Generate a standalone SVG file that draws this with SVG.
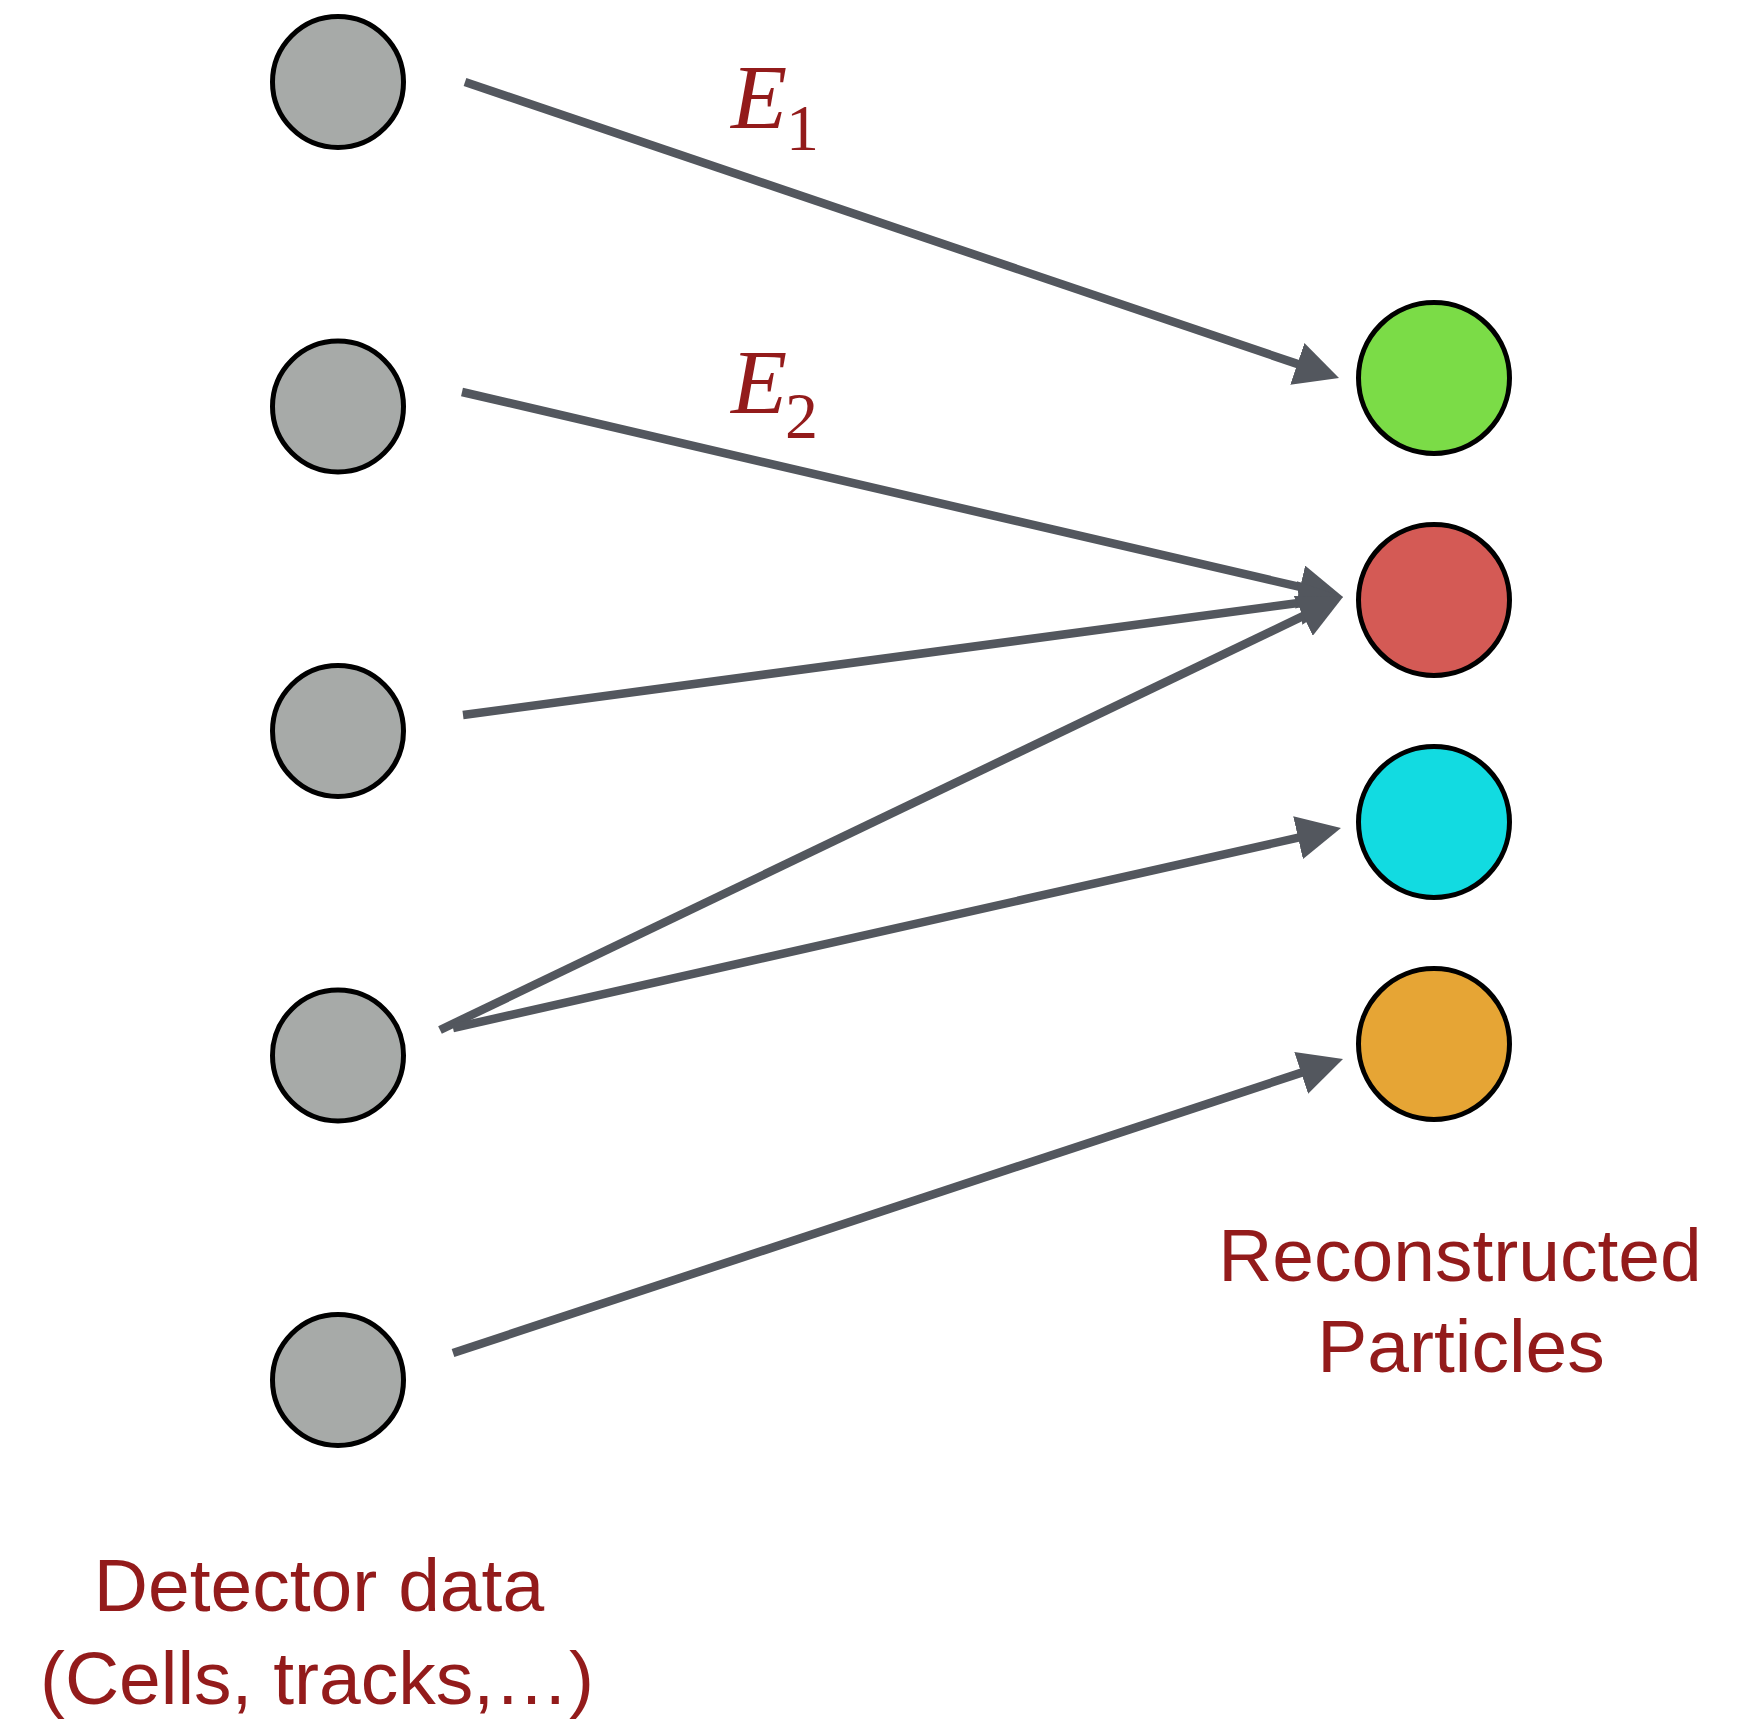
<svg xmlns="http://www.w3.org/2000/svg" width="1742" height="1721" viewBox="0 0 1742 1721">
  <style>
    circle { shape-rendering: geometricPrecision; }
    .det { fill: #a7aaa8; stroke: #000; stroke-width: 5; }
    .part { stroke: #000; stroke-width: 5; }
    .edge { stroke: #53575e; stroke-width: 8.5; fill: none; marker-end: url(#head); }
    .label { font-family: "Liberation Sans", Arial, sans-serif; font-size: 75px; fill: #931b1b; text-anchor: middle; }
    .math { font-family: "Liberation Serif", "Times New Roman", serif; fill: #931b1b; }
  </style>
  <defs>
    <marker id="head" markerUnits="userSpaceOnUse" markerWidth="44" markerHeight="44" refX="14" refY="22" orient="auto">
      <path d="M0,0 L44,22 L0,44 z" fill="#53575e"/>
    </marker>
  </defs>
  <rect width="1742" height="1721" fill="#fff"/>

  <!-- connectors -->
  <g id="connectors">
    <line class="edge" x1="465" y1="82" x2="1310.6" y2="368.4"/>
    <line class="edge" x1="462" y1="392" x2="1313.8" y2="590.2"/>
    <line class="edge" x1="463" y1="715" x2="1313.3" y2="601.0"/>
    <line class="edge" x1="440" y1="1030" x2="1315.9" y2="609.9"/>
    <line class="edge" x1="453" y1="1028" x2="1311.7" y2="834.6"/>
    <line class="edge" x1="453" y1="1353" x2="1314.5" y2="1068.4"/>
  </g>

  <!-- edge labels -->
  <g id="label-e1">
    <text class="math" x="731" y="128" font-size="92" font-style="italic">E</text>
    <text class="math" x="786" y="150" font-size="66">1</text>
  </g>
  <g id="label-e2">
    <text class="math" x="731" y="413" font-size="92" font-style="italic">E</text>
    <text class="math" x="785" y="438" font-size="66">2</text>
  </g>

  <!-- detector inputs -->
  <g id="det1"><circle class="det" cx="338" cy="82" r="65.5"/></g>
  <g id="det2"><circle class="det" cx="338" cy="406.5" r="65.5"/></g>
  <g id="det3"><circle class="det" cx="338" cy="731" r="65.5"/></g>
  <g id="det4"><circle class="det" cx="338" cy="1055.5" r="65.5"/></g>
  <g id="det5"><circle class="det" cx="338" cy="1380" r="65.5"/></g>

  <!-- reconstructed particles -->
  <g id="particle-green"><circle class="part" cx="1434" cy="378" r="75.5" fill="#7bdc47"/></g>
  <g id="particle-red"><circle class="part" cx="1434" cy="600" r="75.5" fill="#d45a55"/></g>
  <g id="particle-cyan"><circle class="part" cx="1434" cy="822" r="75.5" fill="#12dbe1"/></g>
  <g id="particle-orange"><circle class="part" cx="1434" cy="1044" r="75.5" fill="#e6a535"/></g>

  <!-- captions -->
  <g id="caption-particles">
    <text class="label" x="1460" y="1281">Reconstructed</text>
    <text class="label" x="1461" y="1372">Particles</text>
  </g>
  <g id="caption-detector">
    <text class="label" x="319" y="1611">Detector data</text>
    <text class="label" x="317" y="1704">(Cells, tracks,…)</text>
  </g>
</svg>
